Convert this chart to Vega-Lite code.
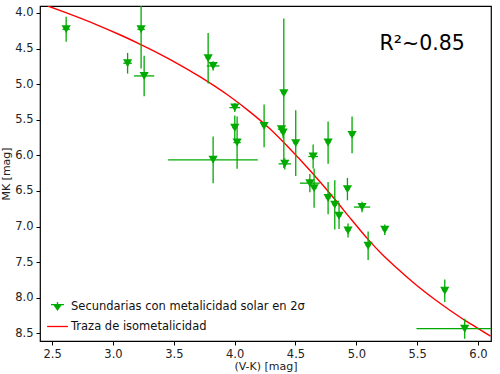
{
  "$schema": "https://vega.github.io/schema/vega-lite/v6.json",
  "width": 451,
  "height": 335,
  "autosize": {"type": "none"},
  "padding": {"left": 40, "top": 6, "right": 9, "bottom": 33},
  "config": {
    "font": "DejaVu Sans",
    "view": {"stroke": "black", "strokeWidth": 1.2},
    "axis": {
      "grid": false,
      "domain": false,
      "tickColor": "black",
      "tickSize": 4,
      "tickWidth": 1,
      "labelColor": "#222",
      "labelFont": "DejaVu Sans",
      "labelFontSize": 11.5,
      "titleFont": "DejaVu Sans",
      "titleFontSize": 11,
      "titleFontWeight": "normal",
      "titleColor": "#222",
      "labelPadding": 3
    }
  },
  "datasets": {
    "stars": [
      {"series": "Secundarias con metalicidad solar en 2σ", "vk": 2.615, "mk": 4.229, "ylo": 4.054, "yhi": 4.404, "xlo": 2.585, "xhi": 2.645},
      {"series": "Secundarias con metalicidad solar en 2σ", "vk": 3.120, "mk": 4.706, "ylo": 4.561, "yhi": 4.851, "xlo": 3.085, "xhi": 3.155},
      {"series": "Secundarias con metalicidad solar en 2σ", "vk": 3.231, "mk": 4.229, "ylo": 3.679, "yhi": 4.779, "xlo": 3.201, "xhi": 3.261},
      {"series": "Secundarias con metalicidad solar en 2σ", "vk": 3.256, "mk": 4.884, "ylo": 4.599, "yhi": 5.169, "xlo": 3.173, "xhi": 3.339},
      {"series": "Secundarias con metalicidad solar en 2σ", "vk": 3.782, "mk": 4.636, "ylo": 4.281, "yhi": 4.991, "xlo": 3.762, "xhi": 3.802},
      {"series": "Secundarias con metalicidad solar en 2σ", "vk": 3.823, "mk": 4.744, "ylo": 4.679, "yhi": 4.809, "xlo": 3.771, "xhi": 3.875},
      {"series": "Secundarias con metalicidad solar en 2σ", "vk": 3.823, "mk": 6.063, "ylo": 5.736, "yhi": 6.390, "xlo": 3.453, "xhi": 4.190},
      {"series": "Secundarias con metalicidad solar en 2σ", "vk": 4.001, "mk": 5.329, "ylo": 5.269, "yhi": 5.389, "xlo": 3.957, "xhi": 4.045},
      {"series": "Secundarias con metalicidad solar en 2σ", "vk": 4.001, "mk": 5.611, "ylo": 5.441, "yhi": 5.781, "xlo": 3.981, "xhi": 4.021},
      {"series": "Secundarias con metalicidad solar en 2σ", "vk": 4.020, "mk": 5.820, "ylo": 5.453, "yhi": 6.187, "xlo": 3.990, "xhi": 4.050},
      {"series": "Secundarias con metalicidad solar en 2σ", "vk": 4.242, "mk": 5.586, "ylo": 5.286, "yhi": 5.886, "xlo": 4.222, "xhi": 4.262},
      {"series": "Secundarias con metalicidad solar en 2σ", "vk": 4.404, "mk": 5.127, "ylo": 4.077, "yhi": 6.177, "xlo": 4.384, "xhi": 4.424},
      {"series": "Secundarias con metalicidad solar en 2σ", "vk": 4.385, "mk": 5.632, "ylo": 5.582, "yhi": 5.682, "xlo": 4.355, "xhi": 4.415},
      {"series": "Secundarias con metalicidad solar en 2σ", "vk": 4.398, "mk": 5.680, "ylo": 5.600, "yhi": 5.760, "xlo": 4.378, "xhi": 4.418},
      {"series": "Secundarias con metalicidad solar en 2σ", "vk": 4.412, "mk": 6.119, "ylo": 6.039, "yhi": 6.199, "xlo": 4.361, "xhi": 4.463},
      {"series": "Secundarias con metalicidad solar en 2σ", "vk": 4.502, "mk": 5.828, "ylo": 5.365, "yhi": 6.291, "xlo": 4.482, "xhi": 4.522},
      {"series": "Secundarias con metalicidad solar en 2σ", "vk": 4.645, "mk": 6.016, "ylo": 5.846, "yhi": 6.186, "xlo": 4.605, "xhi": 4.685},
      {"series": "Secundarias con metalicidad solar en 2σ", "vk": 4.768, "mk": 5.820, "ylo": 5.523, "yhi": 6.117, "xlo": 4.748, "xhi": 4.788},
      {"series": "Secundarias con metalicidad solar en 2σ", "vk": 4.965, "mk": 5.712, "ylo": 5.455, "yhi": 5.969, "xlo": 4.945, "xhi": 4.985},
      {"series": "Secundarias con metalicidad solar en 2σ", "vk": 4.618, "mk": 6.390, "ylo": 6.261, "yhi": 6.519, "xlo": 4.536, "xhi": 4.700},
      {"series": "Secundarias con metalicidad solar en 2σ", "vk": 4.653, "mk": 6.460, "ylo": 6.184, "yhi": 6.736, "xlo": 4.633, "xhi": 4.673},
      {"series": "Secundarias con metalicidad solar en 2σ", "vk": 4.768, "mk": 6.600, "ylo": 6.373, "yhi": 6.827, "xlo": 4.748, "xhi": 4.788},
      {"series": "Secundarias con metalicidad solar en 2σ", "vk": 4.823, "mk": 6.694, "ylo": 6.348, "yhi": 7.040, "xlo": 4.803, "xhi": 4.843},
      {"series": "Secundarias con metalicidad solar en 2σ", "vk": 4.858, "mk": 6.848, "ylo": 6.661, "yhi": 7.035, "xlo": 4.838, "xhi": 4.878},
      {"series": "Secundarias con metalicidad solar en 2σ", "vk": 4.927, "mk": 6.474, "ylo": 6.317, "yhi": 6.631, "xlo": 4.907, "xhi": 4.947},
      {"series": "Secundarias con metalicidad solar en 2σ", "vk": 5.047, "mk": 6.726, "ylo": 6.653, "yhi": 6.799, "xlo": 4.980, "xhi": 5.114},
      {"series": "Secundarias con metalicidad solar en 2σ", "vk": 4.932, "mk": 7.055, "ylo": 6.957, "yhi": 7.153, "xlo": 4.912, "xhi": 4.952},
      {"series": "Secundarias con metalicidad solar en 2σ", "vk": 5.097, "mk": 7.269, "ylo": 7.070, "yhi": 7.468, "xlo": 5.077, "xhi": 5.117},
      {"series": "Secundarias con metalicidad solar en 2σ", "vk": 5.234, "mk": 7.045, "ylo": 6.970, "yhi": 7.120, "xlo": 5.214, "xhi": 5.254},
      {"series": "Secundarias con metalicidad solar en 2σ", "vk": 5.727, "mk": 7.901, "ylo": 7.742, "yhi": 8.060, "xlo": 5.707, "xhi": 5.747},
      {"series": "Secundarias con metalicidad solar en 2σ", "vk": 5.891, "mk": 8.434, "ylo": 8.294, "yhi": 8.574, "xlo": 5.494, "xhi": 6.288}
    ],
    "curve": [
      {"series": "Traza de isometalicidad", "vk": 2.4647, "mk": 3.9018},
      {"series": "Traza de isometalicidad", "vk": 2.6183, "mk": 3.9986},
      {"series": "Traza de isometalicidad", "vk": 2.7523, "mk": 4.0870},
      {"series": "Traza de isometalicidad", "vk": 2.8920, "mk": 4.1838},
      {"series": "Traza de isometalicidad", "vk": 3.0563, "mk": 4.3059},
      {"series": "Traza de isometalicidad", "vk": 3.2206, "mk": 4.4364},
      {"series": "Traza de isometalicidad", "vk": 3.4671, "mk": 4.6511},
      {"series": "Traza de isometalicidad", "vk": 3.7136, "mk": 4.8952},
      {"series": "Traza de isometalicidad", "vk": 3.9462, "mk": 5.1562},
      {"series": "Traza de isometalicidad", "vk": 4.1229, "mk": 5.3849},
      {"series": "Traza de isometalicidad", "vk": 4.2872, "mk": 5.6234},
      {"series": "Traza de isometalicidad", "vk": 4.4516, "mk": 5.9035},
      {"series": "Traza de isometalicidad", "vk": 4.6159, "mk": 6.2066},
      {"series": "Traza de isometalicidad", "vk": 4.8213, "mk": 6.6135},
      {"series": "Traza de isometalicidad", "vk": 4.9610, "mk": 6.9040},
      {"series": "Traza de isometalicidad", "vk": 5.0949, "mk": 7.1765},
      {"series": "Traza de isometalicidad", "vk": 5.2157, "mk": 7.3968},
      {"series": "Traza de isometalicidad", "vk": 5.3414, "mk": 7.5961},
      {"series": "Traza de isometalicidad", "vk": 5.4926, "mk": 7.8208},
      {"series": "Traza de isometalicidad", "vk": 5.6430, "mk": 8.0214},
      {"series": "Traza de isometalicidad", "vk": 5.7662, "mk": 8.1716},
      {"series": "Traza de isometalicidad", "vk": 5.8895, "mk": 8.3133},
      {"series": "Traza de isometalicidad", "vk": 5.9963, "mk": 8.4256},
      {"series": "Traza de isometalicidad", "vk": 6.1031, "mk": 8.5390}
    ],
    "note": [
      {"vk": 5.542, "mk": 4.442, "label": "R²~0.85"}
    ]
  },
  "encoding": {
    "x": {
      "type": "quantitative",
      "scale": {"domain": [2.40, 6.107], "nice": false, "zero": false},
      "axis": {"title": "(V-K) [mag]", "values": [2.5, 3, 3.5, 4, 4.5, 5, 5.5, 6], "format": ".1f", "titlePadding": 1}
    },
    "y": {
      "type": "quantitative",
      "scale": {"domain": [3.902, 8.607], "nice": false, "zero": false, "reverse": true},
      "axis": {"title": "MK [mag]", "values": [4, 4.5, 5, 5.5, 6, 6.5, 7, 7.5, 8, 8.5], "format": ".1f", "titlePadding": 3}
    }
  },
  "layer": [
    {
      "data": {"name": "curve"},
      "mark": {"type": "line", "clip": true, "strokeWidth": 1.4, "interpolate": "monotone"},
      "encoding": {
        "x": {"field": "vk", "type": "quantitative"},
        "y": {"field": "mk", "type": "quantitative"},
        "color": {
          "field": "series",
          "type": "nominal",
          "scale": {
            "domain": ["Secundarias con metalicidad solar en 2σ", "Traza de isometalicidad"],
            "range": ["#00aa00", "#ff0000"]
          },
          "legend": {
            "title": null,
            "orient": "none",
            "legendX": 10,
            "legendY": 293,
            "padding": 0,
            "rowPadding": 5,
            "symbolSize": 169,
            "labelFontSize": 11.5,
            "labelColor": "#111",
            "labelOffset": 6,
            "labelLimit": 0,
            "labelFont": "DejaVu Sans",
            "encode": {
              "symbols": {
                "update": {
                  "shape": {"signal": "datum.value === 'Traza de isometalicidad' ? 'M-1.6,0L1.6,0' : 'M-1,-0.3L1,-0.3M0,-0.7L0,0.7M-0.55,-0.3L0.55,-0.3L0,0.5Z'"},
                  "fill": {"signal": "datum.value === 'Traza de isometalicidad' ? 'transparent' : '#00aa00'"},
                  "stroke": {"signal": "datum.value === 'Traza de isometalicidad' ? '#ff0000' : '#00aa00'"},
                  "strokeWidth": {"value": 1.3},
                  "opacity": {"value": 1},
                  "fillOpacity": {"value": 1},
                  "strokeOpacity": {"value": 1}
                }
              }
            }
          }
        }
      }
    },
    {
      "data": {"name": "stars"},
      "mark": {"type": "rule", "clip": true, "strokeWidth": 1.3, "color": "#00aa00"},
      "encoding": {
        "x": {"field": "vk", "type": "quantitative"},
        "y": {"field": "ylo", "type": "quantitative"},
        "y2": {"field": "yhi"}
      }
    },
    {
      "data": {"name": "stars"},
      "mark": {"type": "rule", "clip": true, "strokeWidth": 1.3, "color": "#00aa00"},
      "encoding": {
        "x": {"field": "xlo", "type": "quantitative"},
        "x2": {"field": "xhi"},
        "y": {"field": "mk", "type": "quantitative"}
      }
    },
    {
      "data": {"name": "stars"},
      "mark": {"type": "point", "filled": true, "shape": "triangle-down", "size": 85, "opacity": 1},
      "encoding": {
        "x": {"field": "vk", "type": "quantitative"},
        "y": {"field": "mk", "type": "quantitative"},
        "color": {"field": "series", "type": "nominal"}
      }
    },
    {
      "data": {"name": "note"},
      "mark": {"type": "text", "fontSize": 20.5, "align": "center", "baseline": "middle", "color": "black", "font": "DejaVu Sans"},
      "encoding": {
        "x": {"field": "vk", "type": "quantitative"},
        "y": {"field": "mk", "type": "quantitative"},
        "text": {"field": "label"}
      }
    }
  ]
}
